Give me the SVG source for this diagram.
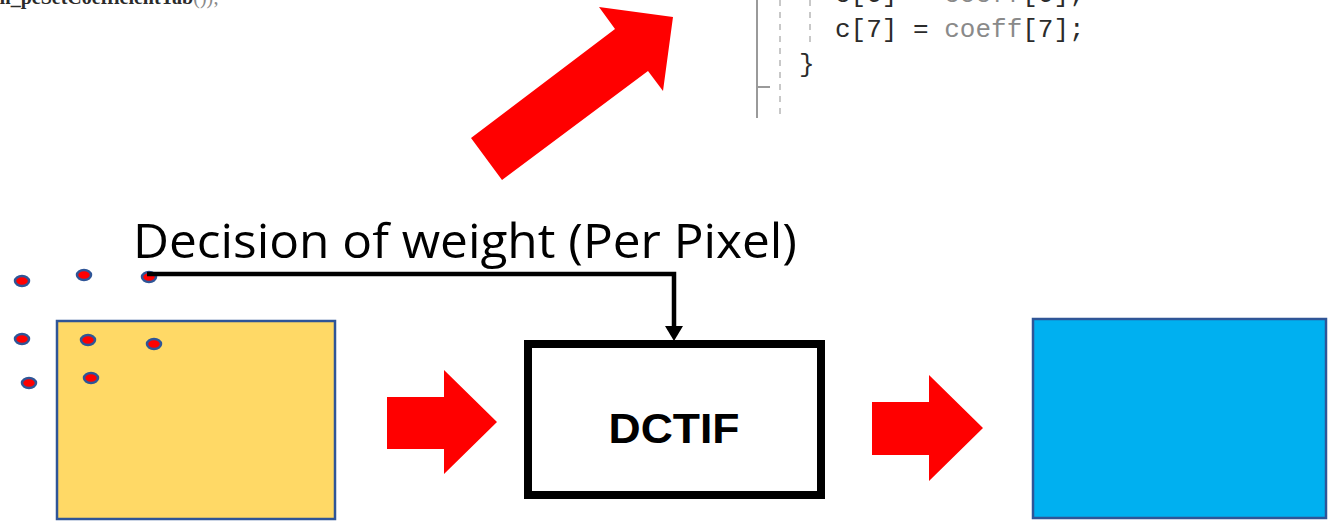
<svg xmlns="http://www.w3.org/2000/svg" width="1332" height="527" viewBox="0 0 1332 527">
  <defs>
    <style>
      .code{font-family:"Liberation Mono","DejaVu Sans Mono",monospace;font-size:26px;fill:#2b2b2b}
      .grey{fill:#8a8a8a}
      .bigarrow{fill:#FF0000}
      .dot{fill:#FF0000;stroke:#2F5597;stroke-width:2.5}
      .img{stroke:#2F5597;stroke-width:2.5}
      .conn{fill:none;stroke:#000;stroke-width:4.5}
    </style>
    <marker id="ah" markerWidth="17" markerHeight="14" refX="8.5" refY="14" orient="auto" markerUnits="userSpaceOnUse" viewBox="0 0 17 14">
      <path d="M0,0 L17,0 L8.5,14 Z" fill="#000" transform="rotate(-90 8.5 7)"/>
    </marker>
  </defs>
  <rect width="1332" height="527" fill="#fff"/>

  <!-- cropped code fragment, top left -->
  <g id="code-left">
    <text x="-6" y="4" class="code" style="font-weight:bold;font-family:'Liberation Serif',serif;font-size:20px">m_pcSetCoefficientTab<tspan class="grey" style="font-weight:normal">());</tspan></text>
  </g>

  <!-- cropped code fragment, top right -->
  <g id="code-right">
    <line x1="757" y1="0" x2="757" y2="118" stroke="#9a9a9a" stroke-width="2"/>
    <line x1="757" y1="87" x2="770" y2="87" stroke="#9a9a9a" stroke-width="2"/>
    <line x1="780" y1="0" x2="780" y2="118" stroke="#c8c8c8" stroke-width="2" stroke-dasharray="6,6"/>
    <line x1="810" y1="0" x2="810" y2="47" stroke="#c8c8c8" stroke-width="2" stroke-dasharray="6,6"/>
    <text x="835" y="2" class="code">c[6] = <tspan class="grey">coeff</tspan>[6];</text>
    <text x="835" y="37" class="code">c[7] = <tspan class="grey">coeff</tspan>[7];</text>
    <text x="799" y="72" class="code">}</text>
  </g>

  <!-- diagonal big arrow -->
  <g id="arrow-diag">
    <polygon class="bigarrow" points="471,138 615,29 599,7 673,17 663,91 648,71 502,180"/>
  </g>

  <!-- label -->
  <g id="label">
    <text x="133" y="258" font-family="'Open Sans','Noto Sans',sans-serif" font-size="48" fill="#000" textLength="664" lengthAdjust="spacingAndGlyphs">Decision of weight (Per Pixel)</text>
  </g>

  <!-- input image -->
  <g id="input-image">
    <rect x="57" y="321" width="278" height="198" class="img" fill="#FFD966"/>
  </g>

  <!-- pixel dots -->
  <g id="pixels">
    <ellipse class="dot" cx="22" cy="281" rx="7" ry="5"/>
    <ellipse class="dot" cx="84" cy="275" rx="7" ry="5"/>
    <ellipse class="dot" cx="149" cy="277" rx="7" ry="5"/>
    <ellipse class="dot" cx="22" cy="339" rx="7" ry="5"/>
    <ellipse class="dot" cx="88" cy="340" rx="7" ry="5"/>
    <ellipse class="dot" cx="154" cy="344" rx="7" ry="5"/>
    <ellipse class="dot" cx="29" cy="383" rx="7" ry="5"/>
    <ellipse class="dot" cx="91" cy="378" rx="7" ry="5"/>
  </g>

  <!-- connectors -->
  <g id="connectors">
    <polyline class="conn" points="147,274 674,274 674,328"/>
    <polygon points="665,326 683,326 674,341" fill="#000"/>
  </g>

  <!-- DCTIF box -->
  <g id="dctif">
    <rect x="528" y="344" width="293" height="151" fill="#fff" stroke="#000" stroke-width="8"/>
    <text x="674" y="443" text-anchor="middle" font-family="'Liberation Sans','Noto Sans',sans-serif" font-weight="bold" font-size="42" fill="#000" textLength="131" lengthAdjust="spacingAndGlyphs">DCTIF</text>
  </g>

  <!-- flow arrows -->
  <g id="arrow-in">
    <polygon class="bigarrow" points="387,397 444,397 444,370 497,422 444,474 444,449 387,449"/>
  </g>
  <g id="arrow-out">
    <polygon class="bigarrow" points="872,402 929,402 929,375 983,428 929,481 929,455 872,455"/>
  </g>

  <!-- output image -->
  <g id="output-image">
    <rect x="1033" y="319" width="293" height="199" class="img" fill="#00B0F0"/>
  </g>
</svg>
